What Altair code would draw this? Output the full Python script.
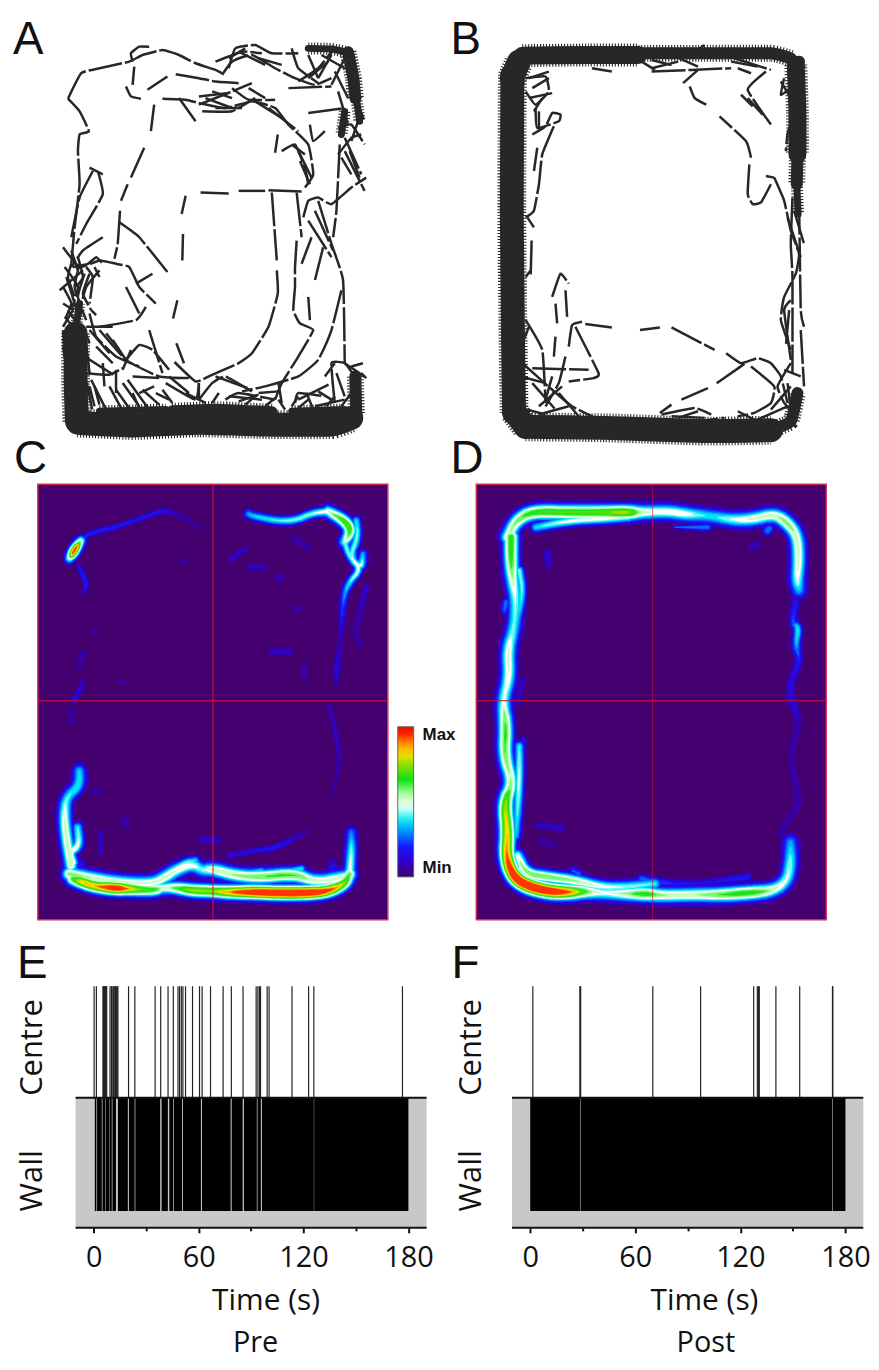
import math
import altair as alt
import pandas as pd

# ---------- panels A / B: movement tracks (arena units) ----------
A_THIN = [
 [(205,262),(245,185),(300,170),(390,150),(430,130),(490,115),(540,130),(590,155),(650,175),(670,185)],
 [(205,262),(240,300),(268,360),(240,370),(235,420),(240,520),(225,650),(215,760)],
 [(400,150),(395,125),(420,105),(450,105)],[(405,165),(400,220)],[(380,225),(395,255),(425,262)],
 [(445,235),(505,195)],[(530,188),(600,200),(650,210),(720,215)],
 [(490,262),(560,265),(600,275),(680,290),(760,270),(830,290),(870,340),(930,400),(945,490),(920,530)],
 [(465,280),(455,360)],[(435,410),(395,500)],[(385,520),(365,570)],[(362,600),(355,700),(345,745)],
 [(360,635),(420,680),(505,785)],[(605,545),(690,548)],[(720,540),(800,540)],[(810,538),(910,542)],
 [(560,555),(548,610)],[(552,670),(550,750)],[(535,870),(522,925)],[(532,1000),(555,1060)],
 [(820,545),(835,750)],[(835,780),(838,850),(810,950),(760,1030),(720,1060),(640,1095),(590,1115),(520,1050)],
 [(838,370),(830,425)],[(850,420),(890,400),(920,470),(930,520)],
 [(895,545),(910,680)],[(895,690),(890,770),(890,830),(885,900),(905,940),(945,960),(900,1040),(850,1120),(830,1170)],
 [(940,680),(910,760)],[(975,710),(950,810)],[(930,860),(935,930)],
 [(915,620),(930,570),(960,560),(1000,580),(1060,530),(1105,500)],
 [(960,570),(1000,700),(1035,810),(1040,1060)],[(1030,840),(1000,960),(960,1050),(900,1100),(800,1130),(730,1145)],
 [(1025,400),(1015,600),(1005,680)],[(930,305),(1040,290)],[(870,230),(1000,225)],[(1040,420),(1100,540)],
 [(1090,370),(1060,380),(1020,430)],[(690,170),(710,110),(770,100),(820,125),(900,125)],
 [(670,190),(700,150),(760,130),(830,170),(890,200),(950,220),(1000,200)],[(650,150),(730,120),(790,125)],
 [(600,280),(700,240),(760,215)],[(610,300),(700,300),(770,260)],[(620,260),(700,290)],[(700,230),(750,265),(830,265)],
 [(540,260),(590,330)],[(900,210),(960,170),(1000,120)],[(930,200),(990,150)],[(1000,220),(1040,140)],
 [(935,340),(945,390),(980,360)],[(280,480),(240,560),(215,680)],[(270,470),(310,490)],
 [(295,480),(310,550),(260,640),(230,700)],[(190,710),(240,770),(300,750),(350,760),(390,770),(420,830),(470,880)],
 [(310,680),(250,720),(215,770)],[(300,780),(260,830),(240,900)],[(200,800),(230,900),(190,880)],
 [(180,840),(250,780)],[(260,770),(280,800),(270,880)],[(300,950),(410,930),(440,890)],[(410,820),(460,790)],
 [(380,830),(420,910)],[(270,910),(290,980),(350,1040),(420,1070)],[(300,960),(380,1050),(480,1100),(570,1105)],
 [(450,960),(490,1090)],[(380,1050),(420,1005),(460,1020),(510,1080)],[(260,950),(340,950)],[(255,1040),(350,1100)],
 [(310,1060),(315,1130)],[(350,1080),(350,1150)],[(275,1110),(320,1200)],[(350,1140),(400,1210)],
 [(385,1110),(450,1200)],[(420,1150),(465,1130)],[(500,1120),(590,1170),(600,1120)],
 [(600,1170),(640,1120),(680,1100),(760,1145)],[(680,1170),(720,1150),(830,1170)],[(780,1150),(840,1145)],
 [(900,1170),(1000,1120)],[(1010,1180),(1000,1060),(1040,1060),(1070,1100)],[(890,1180),(900,1150),(980,1160)],
 [(950,1190),(1040,1170)],[(1040,1060),(1100,1100)],[(840,1170),(860,1200)],
 [(215,760),(205,800),(225,860)],[(195,770),(235,830),(215,900)],[(240,760),(225,830),(245,900)],[(255,790),(235,860),(260,930)],
 [(190,830),(215,880),(195,930)],[(270,790),(250,850),(275,900)],[(205,900),(240,950)],[(250,900),(215,960)],[(190,950),(220,900)],
 [(235,740),(250,800),(230,830)],[(220,770),(265,760),(290,740),(310,760)],[(215,720),(235,780)],[(285,770),(300,800)],
 [(275,900),(290,915)],[(190,960),(195,1040)],[(260,1000),(270,1090)],[(270,1000),(250,950)],
 [(270,960),(330,1030)],[(290,1010),(340,1060)],[(340,990),(380,1050)],[(395,1020),(370,1080)],[(320,970),(360,1020)],
 [(260,1090),(330,1095),(370,1075)],[(285,1130),(300,1185)],[(330,1130),(365,1195)],[(370,1120),(420,1190)],[(400,1100),(480,1105)],
 [(430,1140),(480,1185)],[(470,1150),(510,1170)],[(510,1100),(570,1150)],[(560,1150),(620,1180)],[(600,1120),(600,1165)],
 [(650,1100),(760,1140)],[(690,1160),(790,1170)],[(720,1175),(780,1155)],[(840,1120),(850,1180)],[(880,1190),(900,1160)],
 [(925,1150),(945,1200)],[(960,1145),(1000,1170)],[(1015,1090),(1040,1160)],[(980,1100),(1010,1060)],[(1060,1070),(1095,1060)],
 [(1090,1090),(1105,1105)],[(880,110),(900,170),(960,215)],[(930,130),(960,200)],[(1000,130),(960,200)],[(970,130),(1040,170)],
 [(1010,180),(1050,260)],[(1020,240),(1050,340)],[(1060,230),(1100,330)],[(1090,300),(1060,390)],[(1020,350),(1060,340),(1100,400)],
 [(1040,380),(1090,490)],[(1030,440),(1060,490)],[(1055,420),(1085,500)],[(780,140),(850,160)],[(720,120),(800,160)],
 [(740,110),(690,140)],[(640,240),(700,260)],[(650,290),(730,290)],[(600,255),(690,245)],[(750,230),(800,260)],[(770,270),(850,320)],
 [(810,290),(900,360)],[(900,420),(940,500)],[(905,450),(935,520)],[(880,400),(920,430)],[(950,600),(1005,720)],[(930,630),(1000,740)],
 [(205,1000),(225,940)],[(195,920),(245,980)],[(285,1190),(270,1130)],[(420,1195),(400,1150)],[(520,1180),(490,1140)],
 [(640,1180),(660,1150)],[(740,1185),(770,1160)],[(800,1190),(830,1165)],[(900,1195),(930,1170)],[(985,1190),(1010,1160)],
 [(1030,1190),(1060,1150)],[(190,1010),(205,1100)],[(262,1120),(278,1200)],
]
A_WIDE = [[(235,1240),(400,1248),(600,1240),(800,1245),(1000,1245),(1060,1225)],[(228,970),(228,1120),(232,1235)]]
A_MID = []
A_NARROW = [[(520,1205),(650,1200),(820,1208)],[(1072,1100),(1075,1215)],[(1050,122),(1066,200),(1072,260)]]
A_FINE = [[(930,110),(1000,112),(1050,122)],[(1075,260),(1085,330)],[(1040,300),(1030,370)],
          [(225,980),(240,880)],[(300,1205),(500,1200)],[(880,1205),(1040,1200)]]

B_THIN = [
 [(260,200),(320,195),(330,240),(290,280),(260,240)],[(270,260),(340,245)],
 [(290,290),(295,350),(360,330),(365,310),(340,305),(320,345),(280,370)],
 [(345,345),(310,430),(300,520),(285,600),(260,620)],[(295,410),(285,480)],[(278,690),(275,800)],
 [(340,860),(365,790),(390,820)],[(350,880),(355,940)],[(380,840),(385,920)],[(350,980),(345,1040)],
 [(380,1040),(360,1120),(320,1190)],[(390,1010),(400,945),(430,935)],[(410,950),(480,1090),(465,1105),(390,1115)],
 [(280,1075),(450,1080)],[(440,942),(520,952)],[(605,960),(665,952)],[(700,952),(830,1020)],
 [(865,1030),(910,1060),(960,1045),(1000,1060),(1030,1100),(1050,1180)],[(920,1062),(830,1125)],[(810,1135),(730,1170)],
 [(700,1185),(665,1210)],[(260,930),(310,1020),(320,1180)],[(250,1060),(340,1140),(400,1190),(470,1225)],
 [(390,1190),(300,1215)],[(670,1215),(770,1195),(820,1215)],[(720,1225),(780,1205)],
 [(940,1070),(1010,1130),(1000,1180),(950,1210),(900,1220)],[(1060,1060),(1020,1130),(1040,1180),(1060,1200)],
 [(1010,500),(1040,570),(1060,660),(1085,730),(1075,790),(1040,860),(1030,930),(1060,1020)],
 [(1060,870),(1040,900),(1060,1050)],[(1065,560),(1060,700),(1065,800),(1065,1090)],[(1085,570),(1090,900),(1100,950)],
 [(1010,500),(985,495)],[(1000,520),(970,575),(945,580),(930,550),(935,460)],[(940,440),(925,390),(845,315)],
 [(805,280),(770,260),(755,225)],[(780,175),(735,215)],[(985,180),(930,235),(1000,340)],[(910,250),(945,285)],
 [(930,260),(975,310)],[(640,180),(760,175),(880,170)],[(640,145),(700,160)],[(460,170),(520,180)],[(610,150),(650,175)],
 [(1070,300),(1050,370),(1045,420)],[(1040,200),(1030,250),(1060,230)],[(900,170),(940,185)],
 [(270,200),(330,180)],[(280,230),(330,200)],[(285,300),(310,260)],[(300,300),(300,350)],[(265,620),(285,650)],[(260,800),(275,780)],
 [(245,1100),(320,1120)],[(280,1120),(350,1200)],[(340,1100),(320,1170)],[(300,1190),(370,1130)],[(360,1150),(420,1220)],
 [(250,1000),(270,950)],[(265,1200),(320,1215)],[(700,1220),(800,1225)],[(740,1240),(860,1225)],[(900,1205),(950,1230)],
 [(960,1230),(1050,1190)],[(1000,1200),(1060,1130)],[(1040,1080),(1090,1100)],[(1050,1120),(1060,1200)],[(1090,960),(1100,1130)],
 [(1055,900),(1045,1010)],[(1070,600),(1100,700)],[(1050,620),(1090,740)],[(1030,210),(1060,260)],[(880,150),(960,165)],
 [(700,130),(780,165)],[(640,170),(720,150)],[(800,100),(770,120)],[(890,140),(1000,175)],
]
B_WIDE = [[(220,190),(218,600),(222,1000),(225,1210)],[(260,1252),(500,1255),(800,1265),(1000,1262)],
          [(225,1205),(260,1252)],[(218,200),(240,150)]]
B_MID = [[(250,132),(450,130),(600,130)],[(1075,160),(1080,300),(1080,430)]]
B_NARROW = [[(600,125),(800,125),(1000,125),(1060,140)],[(1000,1262),(1060,1235),(1080,1150)],[(1085,150),(1070,170)],
            [(1080,430),(1078,520)]]
B_FINE = [[(1078,520),(1082,610)]]

# ---------- panels C / D: occupancy ridges (x, y, relative occupancy), with ridge spread ----------
C_RIDGES = [
 (2.4,[(120,265,.45),(135,240,1.12),(155,210,.5)]),
 (1.5,[(155,210,.25),(170,195,.22),(210,180,.22),(260,170,.2),(330,145,.18),(405,118,.2),(440,130,.12),(480,150,.1),(520,175,.07)]),
 (1.5,[(150,290,.18),(175,345,.22),(160,375,.08)]),
 (3.2,[(130,1230,.66),(160,1240,.9),(200,1253,.85),(260,1258,1.12),(300,1260,.85),(340,1263,.72),(380,1263,.68),(400,1257,.5),(440,1257,.62),(490,1265,.8),(550,1267,.75),(600,1270,.9),(680,1270,1.1),(760,1273,1.14),(840,1272,1.14),(900,1267,1.0),(950,1245,.75),(965,1215,.62)]),
 (3.5,[(120,1215,.6),(170,1225,.58),(260,1240,.55),(370,1245,.52),(410,1225,.55),(440,1205,.52),(490,1185,.52),(520,1205,.42),(550,1200,.56),(620,1220,.58),(700,1225,.64),(800,1215,.66),(860,1240,.52),(950,1225,.55)]),
 (3.2,[(125,1190,.56),(110,1100,.56),(105,1040,.52),(110,985,.42),(150,950,.42),(150,905,.38)]),
 (2.6,[(145,1075,.42),(150,1130,.5),(120,1150,.54),(130,1180,.56)]),
 (2.2,[(420,1215,.5),(470,1180,.46),(500,1175,.4)]),(2,[(640,1215,.4),(700,1205,.38)]),(2,[(760,1210,.4),(820,1200,.42)]),
 (2.8,[(965,1215,.5),(970,1150,.46),(970,1090,.3)]),
 (2.2,[(660,130,.34),(670,135,.38),(740,150,.42),(800,150,.45),(850,128,.45),(900,122,.52)]),
 (3,[(900,122,.52),(950,150,.72),(970,180,.72),(950,215,.46)]),
 (2.2,[(985,150,.4),(990,200,.45),(965,260,.45),(1000,295,.52),(1005,250,.34)]),
 (2,[(950,215,.45),(965,260,.45),(1000,295,.52),(960,340,.4),(945,390,.28),(940,470,.13),(935,540,.1),(925,600,.17),(925,640,.09)]),
 (2,[(1015,350,.13),(1000,410,.13),(980,490,.08),(1000,530,.08)]),
 (1.5,[(905,710,.11),(920,780,.13),(935,850,.13),(930,910,.08),(910,980,.07)]),
 (2,[(610,265,.13),(650,235,.11)]),(2,[(670,290,.13),(710,290,.11)]),(2.4,[(750,320,.12),(755,325,.12)]),
 (2,[(800,415,.1),(815,415,.1)]),(2,[(730,545,.13),(785,545,.13)]),(2,[(830,590,.1),(830,620,.1)]),
 (2,[(160,550,.11),(150,590,.11)]),(1.8,[(160,640,.13),(135,690,.16)]),(2,[(125,720,.09),(130,760,.09)]),
 (2,[(190,965,.11),(210,965,.11)]),(2,[(270,635,.08),(285,638,.08)]),(1.8,[(215,1090,.13),(215,1150,.11)]),
 (2,[(520,1110,.16),(570,1115,.13)]),(1.6,[(600,1160,.16),(680,1145,.16),(750,1135,.22),(840,1085,.07)]),
 (2,[(290,1050,.11),(290,1070,.11)]),(2,[(800,205,.11),(840,230,.11)]),(2.5,[(915,1185,.16),(910,1210,.22)]),
 (2.5,[(150,1195,.22),(155,1185,.2)]),(2,[(470,275,.08),(460,270,.08)]),(2,[(200,480,.08),(190,480,.08)]),
]
D_RIDGES = [
 (3.6,[(115,200,.55),(140,150,.6),(190,122,.7),(300,125,.72),(400,125,.72),(480,125,.82),(520,125,.52),(600,122,.52),(650,130,.52),(720,135,.38),(800,148,.48),(860,145,.54),(920,130,.54),(960,155,.62),(990,195,.54),(995,260,.54),(990,330,.5),(995,360,.36)]),
 (2.5,[(200,170,.4),(300,150,.5),(400,145,.5),(480,140,.46)]),
 (3.6,[(125,200,.7),(125,270,.68),(130,330,.54),(140,390,.46),(135,470,.42),(115,540,.54),(120,620,.52),(100,695,.46),(110,770,.68),(105,860,.62),(130,940,.54),(105,1000,.78),(115,1090,.86),(110,1160,.92),(130,1220,1.12),(170,1250,1.16),(240,1268,1.14),(300,1270,.95),(350,1268,.64),(400,1272,.46),(470,1275,.56),(530,1275,.72),(580,1280,.56),(680,1278,.56),(760,1278,.64),(850,1272,.72),(920,1265,.54),(960,1235,.48),(970,1180,.46),(970,1120,.34)]),
 (3,[(145,1160,.5),(170,1215,.64),(240,1225,.64),(320,1235,.58),(400,1255,.5),(470,1255,.46),(560,1245,.42)]),
 (2.4,[(150,830,.42),(150,940,.5),(140,1100,.36)]),
 (2.2,[(150,300,.45),(160,360,.44),(150,430,.36),(125,510,.34)]),(2,[(105,420,.28),(110,395,.3)]),(2,[(105,620,.32),(115,570,.36)]),
 (2.2,[(985,395,.2),(975,460,.24),(995,470,.44),(985,530,.34),(1000,570,.18),(965,650,.17),(975,700,.17),(1000,760,.11),(965,850,.09),(1000,1000,.11),(965,1050,.09),(940,1090,.11)]),
 (2.4,[(235,250,.16),(240,290,.09)]),(2,[(160,630,.13),(145,700,.13)]),(2,[(210,1070,.13),(280,1075,.13)]),
 (2,[(215,1115,.11),(255,1130,.09)]),(2,[(160,810,.16),(165,820,.14)]),(2,[(870,220,.13),(850,235,.1)]),
 (2,[(620,170,.11),(720,170,.3)]),(2.2,[(840,1225,.2),(700,1245,.16),(600,1245,.22),(520,1230,.3)]),
 (2.2,[(310,1205,.22),(330,1215,.28)]),(2.4,[(900,180,.32),(905,175,.32)]),
]
C_X, C_Y = [25, 1080], [40, 1353]
D_X, D_Y = [20, 1078], [40, 1353]
C_CROSS = (553, 693)
D_CROSS = (553, 693)

SCALE_STOPS = [0, .1, .2, .3, .38, .47, .55, .65, .75, .82, .9, .96, 1]
SCALE_COLORS = ['#44006e', '#3000c8', '#1418ff', '#0090ff', '#00f0f0', '#ffffff', '#a8ffa0', '#10e010',
                '#90e000', '#ffe000', '#ff8000', '#ff1000', '#e01000']
LEVELS = [.06, .12, .17, .22, .27, .32, .37, .42, .47, .52, .58, .64, .7, .76, .82, .88, .94]

# ---------- panels E / F: zone occupancy over time (s) ----------
E_CENTRE = [.2,1.5,5.3,5.5,5.8,6.1,6.3,6.6,6.9,7.1,7.4,9.3,10.1,10.5,11.2,11.6,12.1,12.5,13.1,13.4,13.8,19.9,23.5,35.1,38.3,42.5,
            45.5,48.2,49.1,50.1,51.0,52.5,56.5,60.5,62.0,66.8,74.0,78.7,85.4,92.9,93.9,94.8,95.4,99.2,100.3,113.4,122.9,125.9,176.6]
E_GAPS = [(1.5,1.9),(4.6,5.0),(6.7,6.95),(9.0,9.2),(10.3,10.7),(12.7,13.8),(19.5,20.1),(23.4,23.8),(38.0,38.8),(42.4,43.2),
          (45.5,45.9),(50.5,51.0),(61.3,61.9),(78.3,78.9),(85.2,85.9),(93.3,93.7),(95.6,96.2),(125.9,126.1)]
E_WALL = (.6, 180)
F_CENTRE = [1.5,28.4,28.6,28.8,70.0,97.3,127.6,129.7,130.4,130.8,140.3,153.9,172.6,172.8]
F_GAPS = [(28.4,28.7),(172.5,172.8)]
F_WALL = (0, 180)
TICKS = [0, 30, 60, 90, 120, 150, 180]
E_SPAN = (-10.4, 190.4)
F_SPAN = (-10.4, 190.2)
E_DOMAIN = [-32.0, 190.4]
F_DOMAIN = [-30.8, 191.2]
Y_DOMAIN = [-0.166, 2.0]
WALL_BOTTOM = -0.015
Y_TICKS = [0.26, 1.455]

INK = '#272727'
LABEL_FONT = 'Open Sans'
SPREAD = 1.6


def tracks_frame(paths):
    rows = []
    for i, p in enumerate(paths):
        for j, (x, y) in enumerate(p):
            rows.append({'x': x, 'y': y, 'p': i, 'o': j})
    return pd.DataFrame(rows)


def letter(t, dx, dy):
    return alt.Chart(pd.DataFrame({'t': [t]})).mark_text(
        font='Liberation Sans', fontSize=46, align='left', baseline='alphabetic', color='#111'
    ).encode(text='t:N', x=alt.value(dx), y=alt.value(dy))


def track_panel(thin, wide, mid, narrow, fine, xd, yd, let, dx, dy):
    X = alt.X('x:Q', scale=alt.Scale(domain=xd, nice=False, zero=False), axis=None)
    Y = alt.Y('y:Q', scale=alt.Scale(domain=yd, nice=False, zero=False), axis=None)
    layers = []
    for paths, w in ((wide, 24), (mid, 18), (narrow, 12), (fine, 7)):
        if not paths:
            continue
        base = alt.Chart(tracks_frame(paths)).encode(x=X, y=Y, detail='p:N', order='o:Q')
        layers.append(base.mark_line(interpolate='cardinal', tension=.6, color=INK, strokeWidth=w + 5,
                                     strokeDash=[1.1, 1.9]))
        layers.append(base.mark_line(interpolate='cardinal', tension=.6, color=INK, strokeWidth=w, strokeCap='round'))
    layers.append(alt.Chart(tracks_frame(thin)).encode(x=X, y=Y, detail='p:N', order='o:Q').mark_line(
        interpolate='cardinal', tension=.6, color=INK, strokeWidth=2.5, strokeDash=[34, 3]))
    layers.append(letter(let, dx, dy))
    return alt.layer(*layers).properties(width=352, height=388)


def rounded(pts):
    """Cut the corners of a hand-read ridge so the drawn trail is not angular."""
    for _ in range(2):
        if len(pts) < 3:
            break
        new = [pts[0]]
        for a, b in zip(pts, pts[1:]):
            new.append(tuple(.75 * p + .25 * q for p, q in zip(a, b)))
            new.append(tuple(.25 * p + .75 * q for p, q in zip(a, b)))
        new.append(pts[-1])
        pts = new
    return pts


def ridge_frame(ridges):
    rows = []
    for li, L in enumerate(LEVELS):
        for pi, (s, pts) in enumerate(ridges):
            if max(p[2] for p in pts) <= L:
                continue
            pts2 = rounded(pts)
            run = 0
            prev_in = False
            for o, (x, y, v) in enumerate(pts2):
                inside = v > L
                nxt_in = o + 1 < len(pts2) and pts2[o + 1][2] > L
                if not (inside or prev_in or nxt_in):
                    prev_in = False
                    continue
                if inside and not prev_in and o == 0:
                    run += 1
                elif not inside and nxt_in:
                    run += 1
                w = 2 * SPREAD * s * math.sqrt(2 * math.log(v / L)) if inside else 0
                rows.append({'x': round(x, 1), 'y': round(y, 1), 'w': round(w, 2), 'level': L,
                             'k': f'{li:02d}-{pi:03d}-{run:02d}', 'o': o})
                prev_in = inside
    return pd.DataFrame(rows)


def heat_panel(ridges, xd, yd, cross, let, dx, dy, legend, vop):
    X = alt.X('x:Q', scale=alt.Scale(domain=xd, nice=False, zero=False), axis=None)
    Y = alt.Y('y:Q', scale=alt.Scale(domain=yd[::-1], nice=False, zero=False), axis=None)
    frame = alt.Chart(pd.DataFrame({'x': [xd[0]], 'x2': [xd[1]], 'y': [yd[0]], 'y2': [yd[1]]})).mark_rect(
        fill='#44006e', stroke='#d42c55', strokeWidth=1.5
    ).encode(x=X, x2='x2:Q', y=Y, y2='y2:Q')
    trail = alt.Chart(ridge_frame(ridges)).mark_trail(strokeWidth=0).encode(
        x=X, y=Y, detail='k:N', order='o:Q',
        size=alt.Size('w:Q', scale=None, legend=None),
        color=alt.Color('level:Q', scale=alt.Scale(domain=SCALE_STOPS, range=SCALE_COLORS, interpolate='rgb'),
                        legend=legend),
    )
    vrule = alt.Chart(pd.DataFrame({'x': [cross[0]], 'y': [yd[0]], 'y2': [yd[1]]})).mark_rule(
        color='#d3143c', strokeWidth=1, opacity=vop).encode(x=X, y=Y, y2='y2:Q')
    hrule = alt.Chart(pd.DataFrame({'y': [cross[1]], 'x': [xd[0]], 'x2': [xd[1]]})).mark_rule(
        color='#d3143c', strokeWidth=1).encode(x=X, x2='x2:Q', y=Y)
    return alt.layer(frame, trail, vrule, hrule, letter(let, dx, dy)).properties(width=352, height=438)


def raster_panel(centre, gaps, wall, span, dom, let, dx, dy, caption, capx, titlex):
    starts = [wall[0]] + [g[1] for g in gaps]
    ends = [g[0] for g in gaps] + [wall[1]]
    xaxis = alt.Axis(values=TICKS, title='Time (s)', domain=False, grid=False, tickColor='#111', tickWidth=2,
                     tickSize={'condition': {'test': 'datum.value % 60 === 0', 'value': 5}, 'value': 3},
                     labelExpr="datum.value % 60 === 0 ? datum.label : ''", labelFont=LABEL_FONT, labelFontSize=29,
                     labelColor='#111', labelPadding=11, labelOverlap=False, labelFlush=False, titleFont=LABEL_FONT, titleFontSize=30,
                     titleFontWeight='normal', titleColor='#111', titleX=titlex, titlePadding=13)
    yaxis = alt.Axis(values=Y_TICKS, title=None, domain=False, ticks=False, grid=False, labelAngle=270,
                     labelAlign='center', labelBaseline='middle', labelFont=LABEL_FONT, labelFontSize=31, labelColor='#111',
                     labelPadding=5, labelExpr="datum.value > 1 ? 'Centre' : 'Wall'")
    X = alt.X('x:Q', scale=alt.Scale(domain=dom, nice=False, zero=False), axis=xaxis)
    Y = alt.Y('y:Q', scale=alt.Scale(domain=Y_DOMAIN, nice=False, zero=False), axis=yaxis)
    grey = alt.Chart(pd.DataFrame({'x': [span[0]], 'x2': [span[1]], 'y': [Y_DOMAIN[0]], 'y2': [1]})).mark_rect(
        color='#c8c8ca').encode(x=X, x2='x2:Q', y=Y, y2='y2:Q')
    black = alt.Chart(pd.DataFrame({'x': starts, 'x2': ends, 'y': [WALL_BOTTOM] * len(starts), 'y2': [1] * len(starts)})).mark_rect(
        color='#000000').encode(x=X, x2='x2:Q', y=Y, y2='y2:Q')
    lines = alt.Chart(pd.DataFrame({'x': centre, 'y': [1] * len(centre), 'y2': [Y_DOMAIN[1]] * len(centre)})).mark_rule(
        color='#222', strokeWidth=1.2).encode(x=X, y=Y, y2='y2:Q')
    hl = alt.Chart(pd.DataFrame({'x': [span[0]] * 2, 'x2': [span[1]] * 2, 'y': [1, Y_DOMAIN[0]]})).mark_rule(
        color='#111', strokeWidth=2).encode(x=X, x2='x2:Q', y=Y, detail='y:Q')
    cap = alt.Chart(pd.DataFrame({'t': [caption]})).mark_text(
        font=LABEL_FONT, fontSize=29, align='center', baseline='alphabetic', color='#111'
    ).encode(text='t:N', x=alt.value(capx), y=alt.value(368))
    return alt.layer(grey, black, lines, hl, cap, letter(let, dx, dy)).properties(width=391, height=243)


legend = alt.Legend(orient='none', legendX=362, legendY=244, title=None, gradientLength=151, gradientThickness=16,
                    values=[0, 1], labelExpr="datum.value === 0 ? 'Min' : 'Max'", labelFont='Liberation Sans',
                    labelFontSize=17, labelFontWeight='bold', labelColor='#111', tickCount=2, labelOffset=9,
                    gradientStrokeColor='#666', gradientStrokeWidth=1)

panel_a = track_panel(A_THIN, A_WIDE, A_MID, A_NARROW, A_FINE, [114, 1170], [1224, 60], 'A', -25, 22.7)
panel_b = track_panel(B_THIN, B_WIDE, B_MID, B_NARROW, B_FINE, [111, 1167], [1224, 60], 'B', -26, 22.7)
panel_c = heat_panel(C_RIDGES, C_X, C_Y, C_CROSS, 'C', -24, -11, legend, 1)
panel_d = heat_panel(D_RIDGES, D_X, D_Y, D_CROSS, 'D', -26, -11, None, .6)
panel_e = raster_panel(E_CENTRE, E_GAPS, E_WALL, E_SPAN, E_DOMAIN, 'E', -21, -8, 'Pre', 219, 229)
panel_f = raster_panel(F_CENTRE, F_GAPS, F_WALL, F_SPAN, F_DOMAIN, 'F', -25, -8, 'Post', 231, 229)

chart = alt.concat(panel_a, panel_b, panel_c, panel_d, panel_e, panel_f, columns=2, spacing={'row': 67, 'column': 50}, bounds='flush') \
    .resolve_scale(color='independent') \
    .properties(padding={'left': 5, 'top': -8, 'right': 0, 'bottom': 0}, background='white') \
    .configure_view(stroke=None)

chart.save("out.html", embed_options={"renderer": "svg", "actions": False})
